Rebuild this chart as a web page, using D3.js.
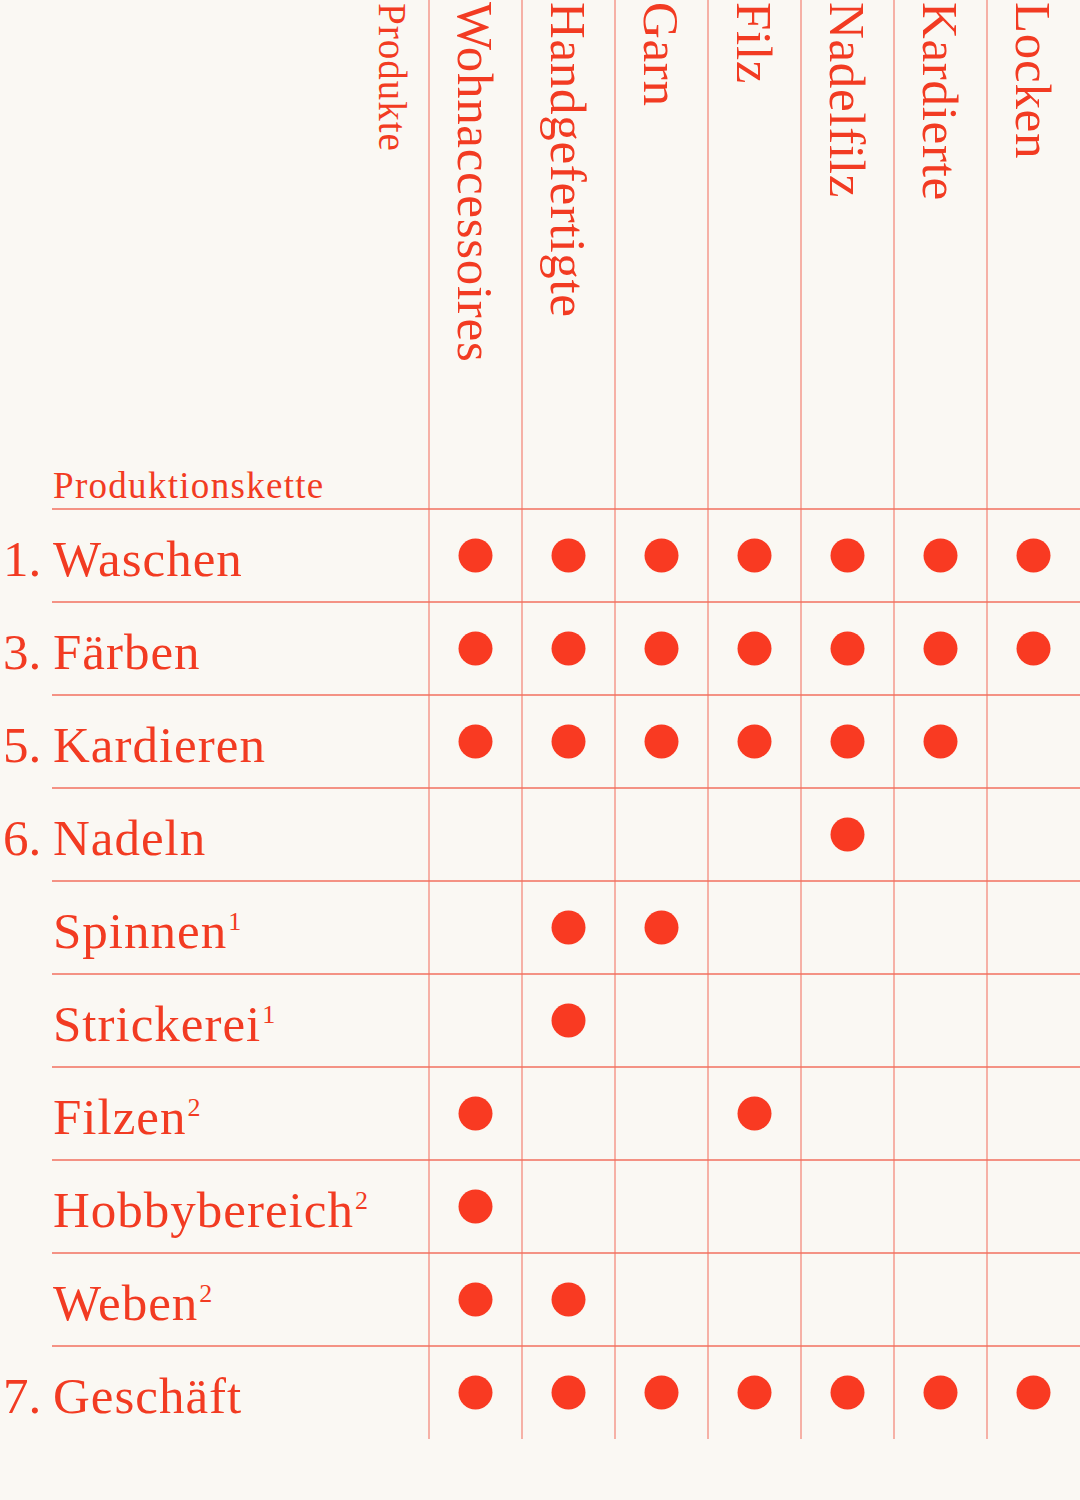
<!DOCTYPE html>
<html>
<head>
<meta charset="utf-8">
<script src="https://cdn.jsdelivr.net/npm/d3@7"></script>
<style>
  html, body { margin: 0; padding: 0; background: #faf8f3; }
  svg { display: block; }
  text { font-family: "Liberation Serif", "DejaVu Serif", serif; fill: #f23b22; }
</style>
</head>
<body>
<div id="chart"></div>
<script>
const products = ["Wohnaccessoires", "Handgefertigte", "Garn", "Filz", "Nadelfilz", "Kardierte", "Locken"];

const stepNumbers = ["1.", "3.", "5.", "6.", "", "", "", "", "", "7."];
const stepLabels = ["Waschen", "Färben", "Kardieren", "Nadeln", "Spinnen", "Strickerei", "Filzen", "Hobbybereich", "Weben", "Geschäft"];
const stepNotes = ["", "", "", "", "1", "1", "2", "2", "2", ""];

// 1 = Schritt gehört zur Herstellung des Produkts
const usage = [
    [1, 1, 1, 1, 1, 1, 1],
    [1, 1, 1, 1, 1, 1, 1],
    [1, 1, 1, 1, 1, 1, 0],
    [0, 0, 0, 0, 1, 0, 0],
    [0, 1, 1, 0, 0, 0, 0],
    [0, 1, 0, 0, 0, 0, 0],
    [1, 0, 0, 1, 0, 0, 0],
    [1, 0, 0, 0, 0, 0, 0],
    [1, 1, 0, 0, 0, 0, 0],
    [1, 1, 1, 1, 1, 1, 1]
];

const width = 1080;
const height = 1500;
const gridLeft = 429;
const gridTop = 509;
const gridBottom = 1439;
const labelX = 53;

const svg = d3.select("#chart").append("svg")
    .attr("width", width)
    .attr("height", height);

svg.append("rect")
    .attr("width", width)
    .attr("height", height)
    .attr("fill", "#faf8f3");

const x = d3.scaleBand()
    .domain(products)
    .range([gridLeft, width]);

const y = d3.scaleBand()
    .domain(stepLabels)
    .range([gridTop, gridBottom]);

// vertical rules
svg.append("g")
    .selectAll("line")
    .data(products)
    .join("line")
    .attr("x1", d => x(d))
    .attr("x2", d => x(d))
    .attr("y1", 0)
    .attr("y2", gridBottom)
    .attr("stroke", "#f59a8c")
    .attr("stroke-width", 1.5);

// horizontal rules
svg.append("g")
    .selectAll("line")
    .data(stepLabels)
    .join("line")
    .attr("x1", labelX - 1)
    .attr("x2", width)
    .attr("y1", d => y(d))
    .attr("y2", d => y(d))
    .attr("stroke", "#f2705f")
    .attr("stroke-width", 1.5);

// column headers
svg.append("g")
    .selectAll("text")
    .data(products)
    .join("text")
    .attr("transform", d => `translate(${x(d) + 29}, 2) rotate(90)`)
    .attr("font-size", 51)
    .attr("letter-spacing", 0.7)
    .text(d => d);

svg.append("text")
    .attr("transform", "translate(379, 3) rotate(90)")
    .attr("font-size", 39)
    .attr("letter-spacing", 1)
    .text("Produkte");

svg.append("text")
    .attr("x", labelX)
    .attr("y", 498)
    .attr("font-size", 37)
    .attr("letter-spacing", 1.3)
    .text("Produktionskette");

// row labels
const rows = svg.append("g")
    .selectAll("g")
    .data(stepLabels)
    .join("g")
    .attr("transform", d => `translate(0, ${y(d) + y.bandwidth() / 2 + 20})`);

rows.append("text")
    .attr("x", 3)
    .attr("font-size", 51)
    .text((d, i) => stepNumbers[i]);

const labels = rows.append("text")
    .attr("x", labelX)
    .attr("font-size", 51)
    .attr("letter-spacing", 1)
    .text(d => d);

labels.append("tspan")
    .attr("font-size", 26)
    .attr("dy", -18)
    .attr("dx", 1)
    .text((d, i) => stepNotes[i]);

// dots
const cells = [];
usage.forEach((row, i) => {
    row.forEach((v, j) => {
        if (v) cells.push({ step: stepLabels[i], product: products[j] });
    });
});

svg.append("g")
    .selectAll("circle")
    .data(cells)
    .join("circle")
    .attr("cx", d => x(d.product) + x.bandwidth() / 2)
    .attr("cy", d => y(d.step) + y.bandwidth() / 2)
    .attr("r", 17)
    .attr("fill", "#f93a22");
</script>
</body>
</html>
